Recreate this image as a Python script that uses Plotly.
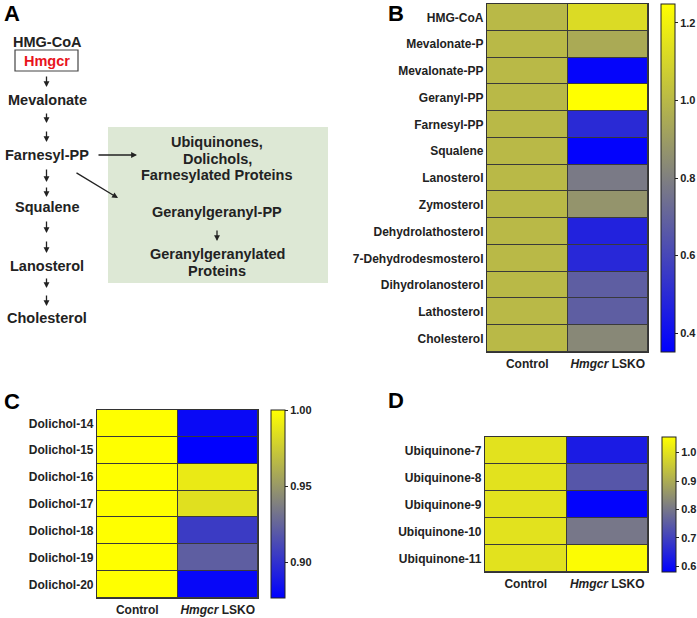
import plotly.graph_objects as go

W, H = 697, 618

# ---------------- data ----------------
groups = ["Control", "<i>Hmgcr</i> LSKO"]

sterol_names = ["HMG-CoA", "Mevalonate-P", "Mevalonate-PP", "Geranyl-PP", "Farnesyl-PP",
                "Squalene", "Lanosterol", "Zymosterol", "Dehydrolathosterol",
                "7-Dehydrodesmosterol", "Dihydrolanosterol", "Lathosterol", "Cholesterol"]
sterol_control = [1.0, 1.0, 1.0, 1.0, 1.0, 1.0, 1.0, 1.0, 1.0, 1.0, 1.0, 1.0, 1.0]
sterol_ko = [1.12, 0.95, 0.37, 1.25, 0.50, 0.36, 0.78, 0.87, 0.47, 0.49, 0.68, 0.68, 0.83]

dolichol_names = ["Dolichol-14", "Dolichol-15", "Dolichol-16", "Dolichol-17",
                  "Dolichol-18", "Dolichol-19", "Dolichol-20"]
dolichol_control = [1.0, 1.0, 1.0, 1.0, 1.0, 1.0, 1.0]
dolichol_ko = [0.881, 0.877, 0.990, 0.985, 0.905, 0.922, 0.880]

ubi_names = ["Ubiquinone-7", "Ubiquinone-8", "Ubiquinone-9", "Ubiquinone-10", "Ubiquinone-11"]
ubi_control = [1.0, 1.0, 1.0, 1.0, 1.0]
ubi_ko = [0.63, 0.74, 0.585, 0.80, 1.05]

# pathway diagram text
pathway_main = ["HMG-CoA", "Mevalonate", "Farnesyl-PP", "Squalene", "Lanosterol", "Cholesterol"]
pathway_side = ["Ubiquinones,", "Dolichols,", "Farnesylated Proteins",
                "Geranylgeranyl-PP", "Geranylgeranylated", "Proteins"]

# ---------------- helpers ----------------
def px(x):
    return x / W

def py(y):
    return 1 - y / H

FONT = "Arial, Liberation Sans, sans-serif"
DARK = "#222222"
cscale = [[0, "#0000FF"], [0.5, "#808080"], [1, "#FFFF00"]]

fig = go.Figure()

def add_heat(names, ctrl, ko, xa, ya, zmin, zmax, cb_x, cb_top, cb_len, tickvals, fmt):
    z = [[c, k] for c, k in zip(ctrl, ko)]
    fig.add_trace(go.Heatmap(
        z=z, x=groups, y=names, xaxis=xa, yaxis=ya,
        colorscale=cscale, zmin=zmin, zmax=zmax, xgap=1, ygap=1,
        hoverinfo="skip",
        colorbar=dict(
            x=px(cb_x), xanchor="left", y=py(cb_top), yanchor="top",
            len=cb_len, lenmode="pixels", thickness=14, thicknessmode="pixels",
            xpad=0, ypad=0, outlinecolor=DARK, outlinewidth=1,
            ticks="outside", ticklen=3, tickcolor=DARK, tickwidth=1,
            tickvals=tickvals, tickformat=fmt,
            tickfont=dict(family=FONT, size=11, color=DARK, weight="bold"),
        ),
    ))

add_heat(sterol_names, sterol_control, sterol_ko, "x", "y", 0.351, 1.249,
         661, 4, 348, [0.4, 0.6, 0.8, 1.0, 1.2], ".1f")
add_heat(dolichol_names, dolichol_control, dolichol_ko, "x2", "y2", 0.8765, 1.0,
         271, 410, 188, [0.90, 0.95, 1.00], ".2f")
add_heat(ubi_names, ubi_control, ubi_ko, "x3", "y3", 0.58, 1.055,
         662, 437, 135, [0.6, 0.7, 0.8, 0.9, 1.0], ".1f")

def xax(x0, x1, anchor):
    return dict(domain=[px(x0), px(x1)], anchor=anchor, showgrid=False, zeroline=False,
                showline=True, mirror=True, linecolor="#333333", linewidth=1.2,
                ticks="", automargin=False,
                tickfont=dict(family=FONT, size=12, color=DARK, weight="bold"),
                fixedrange=True)

def yax(y0, y1, anchor):
    return dict(domain=[py(y1), py(y0)], anchor=anchor, autorange="reversed",
                showgrid=False, zeroline=False, showline=True, mirror=True,
                linecolor="#333333", linewidth=1.2, ticks="", automargin=False,
                tickfont=dict(family=FONT, size=12, color=DARK, weight="bold"),
                fixedrange=True)

fig.update_layout(
    width=W, height=H, margin=dict(l=0, r=0, t=0, b=0, autoexpand=False),
    paper_bgcolor="white", plot_bgcolor="#3a3a3a",
    showlegend=False,
    xaxis=xax(487, 648, "y"), yaxis=yax(4, 352, "x"),
    xaxis2=xax(97, 258, "y2"), yaxis2=yax(410, 598, "x2"),
    xaxis3=xax(485, 648, "y3"), yaxis3=yax(437, 572, "x3"),
)

ann = []
shapes = []

# panel letters
for letter, x, y in [("A", 2, 14), ("B", 386, 14), ("C", 2, 401), ("D", 386, 400)]:
    ann.append(dict(text=letter, x=px(x), y=py(y), xref="paper", yref="paper",
                    xanchor="left", yanchor="middle", showarrow=False,
                    font=dict(family=FONT, size=22, color="black", weight="bold")))

# green box
shapes.append(dict(type="rect", xref="paper", yref="paper", x0=px(108), x1=px(328),
                   y0=py(283), y1=py(127), fillcolor="#DDE8D5", line=dict(width=0),
                   layer="below"))
# Hmgcr box
shapes.append(dict(type="rect", xref="paper", yref="paper", x0=px(15), x1=px(78),
                   y0=py(71), y1=py(50), fillcolor="white",
                   line=dict(color="#444444", width=1.2)))

tf = dict(family=FONT, size=14.5, color=DARK, weight="bold")
main_y = [42, 100, 155, 207, 266, 318]
for name, y in zip(pathway_main, main_y):
    ann.append(dict(text=name, x=px(47), y=py(y), xref="paper", yref="paper",
                    xanchor="center", yanchor="middle", showarrow=False, font=tf))
ann.append(dict(text="Hmgcr", x=px(46.5), y=py(61), xref="paper", yref="paper",
                xanchor="center", yanchor="middle", showarrow=False,
                font=dict(family=FONT, size=14.5, color="#E8141C", weight="bold")))

side_y = [142, 159, 175, 212, 254, 271]
for name, y in zip(pathway_side, side_y):
    ann.append(dict(text=name, x=px(217), y=py(y), xref="paper", yref="paper",
                    xanchor="center", yanchor="middle", showarrow=False, font=tf))

def arrow(x0, y0, x1, y1):
    ann.append(dict(text="", x=px(x1), y=py(y1), xref="paper", yref="paper",
                    ax=x0 - x1, ay=y0 - y1, showarrow=True, arrowhead=2,
                    arrowsize=0.9, arrowwidth=1.3, arrowcolor=DARK, standoff=0))

# vertical short arrows
for y0, y1 in [(75, 87), (112, 123), (130, 142), (168, 182), (186, 197),
               (220, 233), (240, 253), (277, 288), (294, 306)]:
    arrow(46.5, y0, 46.5, y1)
arrow(97, 155, 137, 155)
arrow(75, 172, 118, 198)
arrow(217, 229, 217, 241)

fig.update_layout(annotations=ann, shapes=shapes)

fig.write_html("out.html", config={"displayModeBar": False},
               post_script="document.body.style.margin='0';document.body.style.padding='0';")
